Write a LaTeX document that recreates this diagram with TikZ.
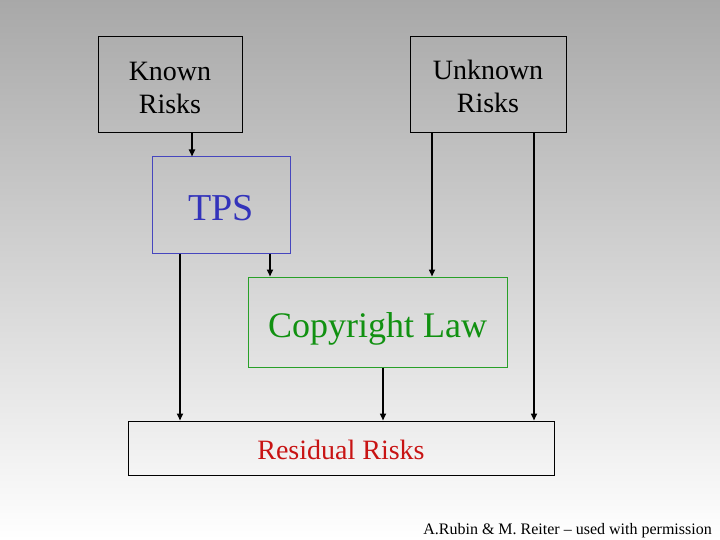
\documentclass[tikz,border=0pt]{standalone}
\usepackage{fontspec}
\setmainfont{Liberation Serif}
\usetikzlibrary{arrows.meta}
\definecolor{tpsblue}{RGB}{51,51,187}
\definecolor{tpsborder}{RGB}{70,70,190}
\definecolor{cgreen}{RGB}{17,145,17}
\definecolor{cborder}{RGB}{40,160,40}
\definecolor{rred}{RGB}{200,20,20}
\begin{document}
\begin{tikzpicture}[x=1pt,y=-1pt,
  box/.style={draw, line width=1pt, minimum width=#1, inner sep=0pt},
  lbl/.style={inner sep=0pt, align=center},
  arr/.style={line width=1.6pt, -{Triangle[length=7pt,width=6pt]}}]
\useasboundingbox (0,0) rectangle (720,540);
\shade[top color=black!34, bottom color=white] (0,0) rectangle (720,540);
\node[box=144pt, minimum height=96pt] (known) at (170,85) {};
\node[box=156pt, minimum height=96pt] (unknown) at (488,85) {};
\node[box=138pt, minimum height=96pt, draw=tpsborder] (tps) at (221,205) {};
\node[box=259pt, minimum height=90pt, draw=cborder] (copy) at (377.5,322) {};
\node[box=426pt, minimum height=54pt] (resid) at (341,448) {};
\node[lbl, font=\fontsize{28}{33}\selectfont] (knownt) at ([yshift=-2.5pt]known.center) {Known\\Risks};
\node[lbl, font=\fontsize{28}{33}\selectfont] (unknownt) at ([yshift=-1.5pt]unknown.center) {Unknown\\Risks};
\node[lbl, text=tpsblue, font=\fontsize{38}{44}\selectfont] (tpst) at ([yshift=-3pt]tps.center) {TPS};
\node[lbl, text=cgreen, font=\fontsize{36}{42}\selectfont] (copyt) at ([yshift=-7pt]copy.center) {Copyright Law};
\node[lbl, text=rred, font=\fontsize{28}{33}\selectfont] (residt) at ([yshift=-2pt]resid.center) {Residual Risks};
\node[anchor=east, inner sep=0pt, font=\fontsize{16}{19}\selectfont] (credit) at (712,531) {A.Rubin \& M. Reiter -- used with permission};
\coordinate (c1) at (192,0);
\coordinate (c2) at (180,0);
\coordinate (c3) at (270,0);
\coordinate (c4) at (432,0);
\coordinate (c5) at (534,0);
\coordinate (c6) at (383,0);
\draw[arr] (known.south -| c1) -- (tps.north -| c1);
\draw[arr] (tps.south -| c2) -- (resid.north -| c2);
\draw[arr] (tps.south -| c3) -- (copy.north -| c3);
\draw[arr] (unknown.south -| c4) -- (copy.north -| c4);
\draw[arr] (unknown.south -| c5) -- (resid.north -| c5);
\draw[arr] (copy.south -| c6) -- (resid.north -| c6);
\end{tikzpicture}
\end{document}
